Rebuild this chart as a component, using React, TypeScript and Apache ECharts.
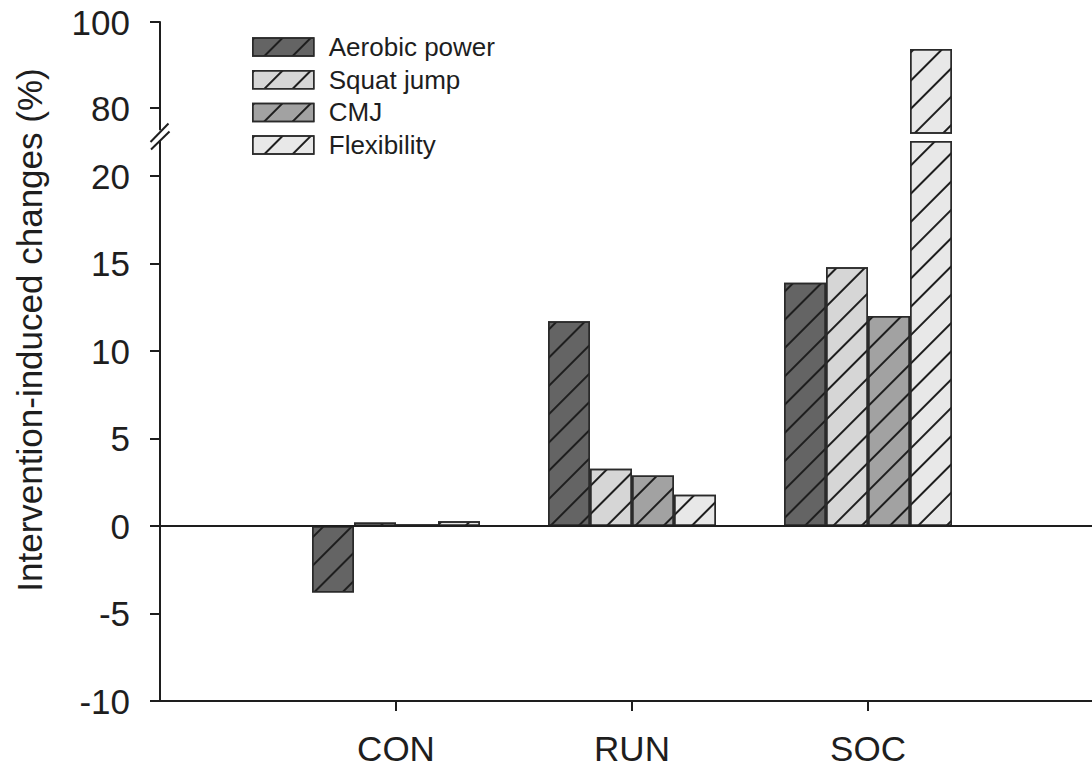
import { useEffect, useRef } from 'react';
import * as echarts from 'echarts';

const categories = ['CON', 'RUN', 'SOC'];
const seriesNames = ['Aerobic power', 'Squat jump', 'CMJ', 'Flexibility'];
const aerobicPower = [-3.8, 11.7, 13.9];
const squatJump = [0.2, 3.27, 14.78];
const cmj = [0.1, 2.89, 12.0];
const flexibility = [0.27, 1.78, 93.7];
const lowerTicks = [-10, -5, 0, 5, 10, 15, 20];
const upperTicks = [80, 100];
const lowerRange = [-10, 22];
const upperRange = [75, 100];
const upperBarBase = 74;
const yAxisTitle = 'Intervention-induced changes (%)';

const fills = ['#646464', '#d6d6d6', '#a2a2a2', '#e8e8e8'];
const FONT = "'Liberation Sans', Arial, sans-serif";
const INK = '#1e1e1e';

export default function App() {
  const ref = useRef<HTMLDivElement>(null);
  useEffect(() => {
    if (!ref.current) return;
    const chart = echarts.init(ref.current, undefined, { renderer: 'svg' });
    const allValues = [aerobicPower, squatJump, cmj, flexibility];
    const xData = ['', ...categories, ''];
    const pad = (arr: (number | null)[]) => [null, ...arr, null];
    const decal = {
      symbol: 'rect',
      symbolSize: 1,
      color: '#1e1e1e',
      dashArrayX: [1, 0],
      dashArrayY: [2, 18],
      rotation: -Math.PI / 4,
    };
    const itemStyleFor = (i: number) => ({
      color: fills[i],
      borderColor: '#2a2a2a',
      borderWidth: 1.5,
      decal,
    });

    const lowerSeries = allValues.map((vals, i) => ({
      type: 'bar',
      name: seriesNames[i],
      xAxisIndex: 0,
      yAxisIndex: 0,
      data: pad(vals.map((v) => Math.min(v, lowerRange[1]))),
      barWidth: 42,
      barGap: '0%',
      clip: false,
      silent: true,
      itemStyle: itemStyleFor(i),
      markLine:
        i === 0
          ? {
              silent: true,
              symbol: 'none',
              label: { show: false },
              lineStyle: { color: INK, width: 1.8, type: 'solid' },
              data: [{ yAxis: 0 }],
            }
          : undefined,
    }));

    const upperSeries: any[] = [];
    allValues.forEach((vals, i) => {
      upperSeries.push({
        type: 'bar',
        name: '_base' + i,
        stack: 'u' + i,
        xAxisIndex: 1,
        yAxisIndex: 1,
        data: pad(vals.map((v) => (v > upperRange[0] ? upperBarBase : null))),
        barWidth: 42,
        barGap: '0%',
        clip: false,
        silent: true,
        itemStyle: { color: 'rgba(0,0,0,0)', borderWidth: 0 },
      });
      upperSeries.push({
        type: 'bar',
        name: seriesNames[i],
        stack: 'u' + i,
        xAxisIndex: 1,
        yAxisIndex: 1,
        data: pad(vals.map((v) => (v > upperRange[0] ? v - upperBarBase : null))),
        barWidth: 42,
        barGap: '0%',
        clip: false,
        silent: true,
        itemStyle: itemStyleFor(i),
      });
    });

    const axisLabelStyle = { fontSize: 35, color: INK, fontFamily: FONT };

    chart.setOption({
      animation: false,
      backgroundColor: '#ffffff',
      legend: {
        data: seriesNames,
        orient: 'vertical',
        left: 247,
        top: 29,
        icon: 'rect',
        itemWidth: 61,
        itemHeight: 18,
        itemGap: 6.7,
        selectedMode: false,
        itemStyle: { borderColor: '#2a2a2a', borderWidth: 1.5 },
        textStyle: {
          fontSize: 26,
          color: INK,
          fontFamily: FONT,
          padding: [0, 0, 0, 10],
        },
      },
      grid: [
        { left: 160, width: 944, top: 141, height: 560, containLabel: false, outerBoundsMode: 'none' },
        { left: 160, width: 944, top: 22, height: 107.5, containLabel: false, outerBoundsMode: 'none' },
      ],
      xAxis: [
        {
          type: 'category',
          gridIndex: 0,
          data: xData,
          boundaryGap: false,
          axisLine: { onZero: false, lineStyle: { color: INK, width: 2 } },
          axisTick: {
            show: true,
            length: 10,
            interval: (idx: number) => idx > 0 && idx < xData.length - 1,
            lineStyle: { color: INK, width: 2 },
          },
          axisLabel: { ...axisLabelStyle, margin: 30, interval: 0 },
          splitLine: { show: false },
        },
        {
          type: 'category',
          gridIndex: 1,
          data: xData,
          boundaryGap: false,
          show: false,
        },
      ],
      yAxis: [
        {
          type: 'value',
          gridIndex: 0,
          min: lowerRange[0],
          max: lowerRange[1],
          axisLine: { show: true, onZero: false, lineStyle: { color: INK, width: 2 } },
          axisTick: {
            show: true,
            length: 10,
            customValues: lowerTicks,
            lineStyle: { color: INK, width: 2 },
          },
          axisLabel: { ...axisLabelStyle, margin: 30, customValues: lowerTicks },
          splitLine: { show: false },
        },
        {
          type: 'value',
          gridIndex: 1,
          min: upperRange[0],
          max: upperRange[1],
          axisLine: { show: true, onZero: false, lineStyle: { color: INK, width: 2 } },
          axisTick: {
            show: true,
            length: 10,
            customValues: upperTicks,
            lineStyle: { color: INK, width: 2 },
          },
          axisLabel: { ...axisLabelStyle, margin: 30, customValues: upperTicks },
          splitLine: { show: false },
        },
      ],
      graphic: [
        {
          type: 'line',
          shape: { x1: 150.5, y1: 142, x2: 168.5, y2: 123.5 },
          style: { stroke: INK, lineWidth: 2 },
        },
        {
          type: 'line',
          shape: { x1: 151, y1: 149.5, x2: 169.5, y2: 131.5 },
          style: { stroke: INK, lineWidth: 2 },
        },
        {
          type: 'text',
          x: 29,
          y: 330,
          rotation: Math.PI / 2,
          style: {
            text: yAxisTitle,
            fontSize: 35,
            fontFamily: FONT,
            fill: INK,
            align: 'center',
            verticalAlign: 'middle',
          },
        },
      ],
      series: [...lowerSeries, ...upperSeries],
    });
    return () => chart.dispose();
  }, []);
  return (
    <div
      ref={ref}
      style={{ position: 'absolute', left: 0, top: 0, width: 1092, height: 767, background: '#fff' }}
    />
  );
}
